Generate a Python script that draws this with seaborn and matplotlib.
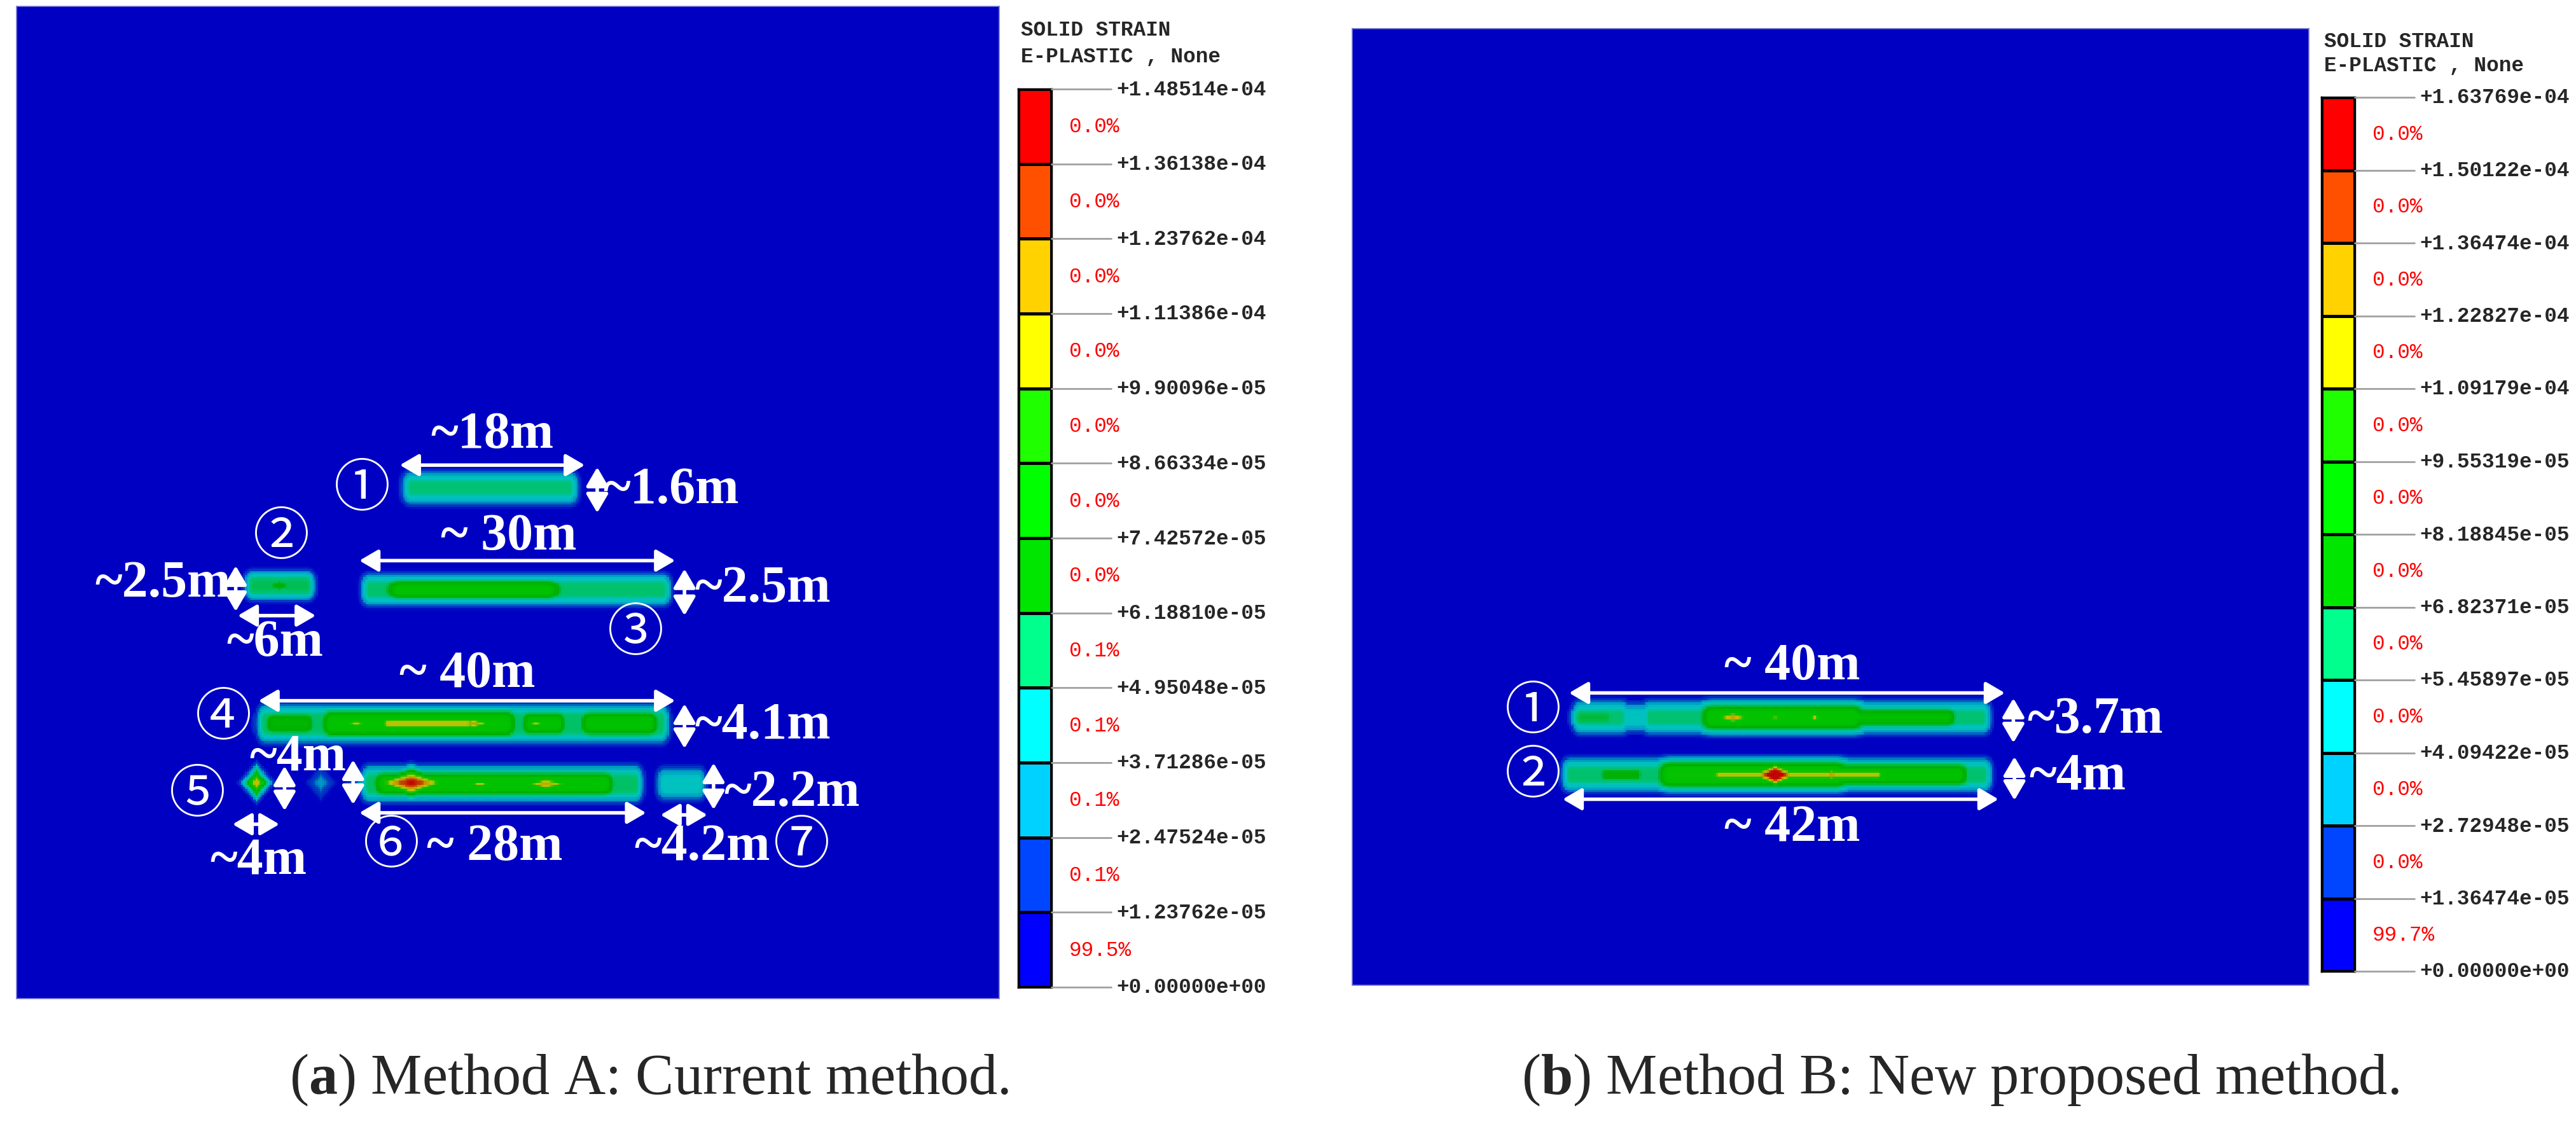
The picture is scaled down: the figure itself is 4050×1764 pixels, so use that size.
import numpy as np
import matplotlib
matplotlib.use("Agg")
import matplotlib.pyplot as plt
from matplotlib.colors import ListedColormap, to_rgb
from matplotlib.lines import Line2D
import seaborn as sns

sns.set_style("white")
plt.rcParams["mathtext.fontset"] = "custom"
plt.rcParams["mathtext.rm"] = "Liberation Serif"
plt.rcParams["mathtext.bf"] = "Liberation Serif:bold"

# ---- legend data -------------------------------------------------------
levels_a = [0.0, 1.23762e-05, 2.47524e-05, 3.71286e-05, 4.95048e-05, 6.18810e-05,
            7.42572e-05, 8.66334e-05, 9.90096e-05, 1.11386e-04, 1.23762e-04,
            1.36138e-04, 1.48514e-04]
levels_b = [0.0, 1.36474e-05, 2.72948e-05, 4.09422e-05, 5.45897e-05, 6.82371e-05,
            8.18845e-05, 9.55319e-05, 1.09179e-04, 1.22827e-04, 1.36474e-04,
            1.50122e-04, 1.63769e-04]
# share of elements per band, bottom band first
share_a = [99.5, 0.1, 0.1, 0.1, 0.1, 0.0, 0.0, 0.0, 0.0, 0.0, 0.0, 0.0]
share_b = [99.7, 0.0, 0.0, 0.0, 0.0, 0.0, 0.0, 0.0, 0.0, 0.0, 0.0, 0.0]
band_colors = ["#0000FF", "#0046FF", "#00D2FF", "#00FFFF", "#00FF8C", "#00E600",
               "#00FF00", "#20FF00", "#FFFF00", "#FFD200", "#FF5000", "#FF0000"]

# ---- plastic zones (m, y measured downward), strain values in 1e-5 ------
# bands: x start, x end, y centre, half height, end taper, peak strain
bands_a = [
    (38.0, 53.2, 46.4, 1.65, 1.0, 5.3),   # 1
    (22.8, 27.9, 55.8, 1.45, 0.9, 6.0),   # 2
    (34.0, 62.2, 56.2, 1.60, 0.9, 5.5),   # 3
    (37.0, 51.0, 56.2, 1.20, 2.6, 8.0),
    (24.0, 62.0, 69.1, 1.90, 0.9, 5.8),   # 4
    (24.8, 27.8, 69.1, 1.40, 1.6, 7.4),
    (30.5, 47.0, 69.1, 1.65, 1.8, 8.4),
    (49.5, 52.0, 69.1, 1.50, 1.5, 8.0),
    (55.3, 60.8, 69.1, 1.55, 1.8, 8.0),
    (35.8, 43.4, 69.1, 0.60, 1.0, 10.6),
    (34.0, 59.5, 74.9, 1.80, 0.9, 5.8),   # 6
    (35.5, 56.5, 74.9, 1.50, 1.8, 8.2),
    (62.4, 65.6, 74.9, 1.65, 0.9, 4.5),   # 7
]
# hot spots: x, y, half width, half height, peak strain
spots_a = [
    (25.3, 55.8, 2.2, 0.9, 7.2),
    (32.7, 69.1, 1.5, 0.5, 10.4),
    (44.0, 69.1, 2.2, 0.7, 11.8),
    (50.0, 69.1, 1.2, 0.4, 10.4),
    (23.1, 74.8, 1.3, 1.5, 10.8),         # 5
    (29.3, 74.8, 1.5, 1.8, 2.9),
    (38.0, 74.8, 4.2, 1.4, 14.0),
    (44.6, 74.9, 1.6, 0.4, 10.5),
    (51.0, 74.9, 3.0, 0.9, 11.4),
    (56.0, 74.9, 2.0, 1.4, 8.6),
]
bands_b = [
    (21.5, 25.3, 64.8, 1.63, 0.9, 5.9),   # 1
    (25.3, 28.0, 64.8, 1.45, 1.0, 4.9),
    (28.0, 59.3, 64.8, 1.63, 0.9, 5.9),
    (21.5, 24.0, 64.8, 1.10, 1.0, 6.8),
    (34.0, 47.0, 64.8, 1.60, 2.0, 9.2),
    (47.5, 56.0, 64.8, 1.20, 1.5, 8.4),
    (20.5, 59.4, 70.2, 1.65, 0.9, 6.0),   # 2
    (23.8, 26.8, 70.2, 0.90, 1.0, 7.4),
    (30.0, 45.5, 70.2, 1.60, 2.0, 9.4),
    (46.0, 57.0, 70.2, 1.40, 1.6, 8.8),
    (34.5, 49.4, 70.2, 0.55, 1.0, 11.4),
]
spots_b = [
    (35.8, 64.8, 2.6, 0.8, 12.8),
    (39.8, 64.8, 1.2, 0.5, 11.6),
    (43.5, 64.8, 1.4, 0.5, 11.8),
    (39.8, 70.2, 2.6, 1.15, 17.5),
    (45.1, 70.2, 2.4, 0.7, 13.0),
]
size_a = (94.8, 95.7)
size_b = (90.0, 90.0)
RES = 0.2


def strain_field(size, bands, spots):
    nx, ny = int(size[0] / RES), int(size[1] / RES)
    X, Y = np.meshgrid((np.arange(nx) + 0.5) * RES, (np.arange(ny) + 0.5) * RES)
    F = np.zeros_like(X)
    for x0, x1, yc, ry, rx, pk in bands:
        dx = np.clip(np.maximum(x0 - X, X - x1), 0, None)
        F = np.maximum(F, pk * 1e-5 * np.exp(-np.abs((Y - yc) / ry) ** 3 - (dx / rx) ** 2))
    for xc, yc, rx, ry, pk in spots:
        d = np.abs(X - xc) / rx + np.abs(Y - yc) / ry
        F = np.maximum(F, pk * 1e-5 * np.exp(-d ** 2))
    return F


def soft_cmap(colors, scale, sigma=0.12, n=1200):
    t = np.linspace(0, 12, n)[:, None]
    k = np.arange(12)[None, :]
    sig = lambda z: 1 / (1 + np.exp(-z))
    w = sig((t - k) / sigma) - sig((t - k - 1) / sigma)
    rgb = (w @ np.array([to_rgb(c) for c in colors])) / w.sum(axis=1, keepdims=True)
    return ListedColormap(np.clip(rgb * scale, 0, 1))


W, H = 4050, 1765
fig = plt.figure(figsize=(W / 100, H / 100), dpi=100)


def fax(x0, y0, x1, y1):
    return fig.add_axes([x0 / W, 1 - y1 / H, (x1 - x0) / W, (y1 - y0) / H])


shade = soft_cmap(band_colors, 0.76)
bright = ListedColormap(band_colors)
mono = dict(family="Liberation Mono", fontsize=23.5)
ann = dict(family="Liberation Serif", fontweight="bold", fontsize=59, color="white")
circ = dict(family=["Liberation Serif", "Noto Sans CJK JP"], fontsize=64, color="white")
arrow = dict(arrowstyle="<|-|>,head_length=0.6,head_width=0.35", color="white",
             lw=4, shrinkA=0, shrinkB=0, mutation_scale=30)


def panel(box, cbox, size, bands, spots, levels, share, head_y):
    ax = fax(*box)
    F = strain_field(size, bands, spots)
    lev = np.clip(F / levels[1], 0, 12)
    sns.heatmap(lev, ax=ax, cmap=shade, vmin=0, vmax=12, cbar=False,
                xticklabels=False, yticklabels=False)
    for s in ax.spines.values():
        s.set_visible(True)
        s.set_color("#7a7ad8")
        s.set_linewidth(1.2)

    cx = fax(*cbox)
    sns.heatmap(np.arange(12)[::-1].reshape(-1, 1), ax=cx, cmap=bright, vmin=-0.5,
                vmax=11.5, cbar=False, linewidths=2.2, linecolor="black",
                xticklabels=False, yticklabels=False)
    for s in cx.spines.values():
        s.set_visible(True)
        s.set_color("black")
        s.set_linewidth(2.5)

    x0, y0, x1, y1 = cbox
    step = (y1 - y0) / 12
    fig.text((x0 + 4) / W, 1 - head_y[0] / H, "SOLID STRAIN", va="center",
             fontweight="bold", **mono)
    fig.text((x0 + 4) / W, 1 - head_y[1] / H, "E-PLASTIC , None", va="center",
             fontweight="bold", **mono)
    for k, v in enumerate(levels):
        yy = 1 - (y1 - k * step) / H
        fig.add_artist(Line2D([x1 / W, (x1 + 94) / W], [yy, yy], color="#a0a0a0", lw=2))
        fig.text((x1 + 102) / W, yy, f"{v:+.5e}", va="center", fontweight="bold", **mono)
    for k, p in enumerate(share):
        yy = 1 - (y1 - (k + 0.5) * step) / H
        fig.text((x1 + 28) / W, yy, f"{p:.1f}%", va="center", color="#ff0000", **mono)
    return ax


def m(v):
    return v / RES


def dim_arrow(ax, p0, p1):
    ax.annotate("", xy=(m(p1[0]), m(p1[1])), xytext=(m(p0[0]), m(p0[1])), arrowprops=arrow)


def label(ax, x, y, s, ha="center", **kw):
    ax.text(m(x), m(y), s, ha=ha, va="center", **kw)


ax_a = panel((26, 11, 1571, 1571), (1601, 141, 1653, 1553), size_a, bands_a, spots_a,
             levels_a, share_a, (48, 89))
ax_b = panel((2126, 46, 3630, 1550), (3650, 154, 3702, 1528), size_b, bands_b, spots_b,
             levels_b, share_b, (66, 104))

# ---- annotations, panel a -----------------------------------------------
for x, y, s in [(33.3, 46.6, "①"), (25.5, 51.3, "②"), (59.6, 60.5, "③"),
                (19.9, 68.7, "④"), (17.4, 76.1, "⑤"), (36.1, 81.0, "⑥"),
                (75.6, 81.0, "⑦")]:
    label(ax_a, x, y, s, **circ)
for x, y, s in [(45.8, 41.3, "~18m"), (47.4, 51.1, "~ 30m"), (24.9, 61.3, "~6m"),
                (43.4, 64.3, "~ 40m"), (27.1, 72.3, "~4m"), (23.3, 82.3, "~4m"),
                (46.0, 81.0, "~ 28m"), (66.0, 81.0, "~4.2m")]:
    label(ax_a, x, y, s, **ann)
for x, y, s in [(56.5, 46.6, "~1.6m"), (65.3, 56.1, "~2.5m"), (65.3, 69.3, "~4.1m"),
                (68.1, 75.8, "~2.2m")]:
    label(ax_a, x, y, s, ha="left", **ann)
label(ax_a, 20.6, 55.6, "~2.5m", ha="right", **ann)
for p0, p1 in [((36.9, 44.2), (54.7, 44.2)), ((55.9, 44.4), (55.9, 48.8)),
               ((33.0, 53.4), (63.4, 53.4)), ((21.1, 53.9), (21.1, 58.3)),
               ((21.3, 58.7), (28.8, 58.7)), ((64.3, 54.2), (64.3, 58.7)),
               ((23.3, 66.9), (63.4, 66.9)), ((64.3, 67.2), (64.3, 71.5)),
               ((25.8, 73.2), (25.8, 77.5)), ((32.4, 72.6), (32.4, 76.9)),
               ((20.8, 78.8), (25.3, 78.8)), ((33.0, 77.7), (60.6, 77.7)),
               ((62.0, 77.9), (66.5, 77.9)), ((67.1, 72.9), (67.1, 77.4))]:
    dim_arrow(ax_a, p0, p1)

# ---- annotations, panel b -----------------------------------------------
label(ax_b, 17.0, 64.4, "①", **circ)
label(ax_b, 17.0, 70.4, "②", **circ)
label(ax_b, 41.4, 60.0, "~ 40m", **ann)
label(ax_b, 41.4, 75.2, "~ 42m", **ann)
label(ax_b, 63.5, 65.0, "~3.7m", ha="left", **ann)
label(ax_b, 63.7, 70.3, "~4m", ha="left", **ann)
for p0, p1 in [((20.4, 62.5), (61.4, 62.5)), ((19.8, 72.5), (60.8, 72.5)),
               ((62.2, 63.0), (62.2, 67.2)), ((62.3, 68.5), (62.3, 72.6))]:
    dim_arrow(ax_b, p0, p1)

# ---- captions -------------------------------------------------------------
cap = dict(ha="center", va="baseline", fontsize=65, family="Liberation Serif")
fig.text(0.252, 1 - 1720 / H, r"($\mathbf{a}$) Method A: Current method.", **cap)
fig.text(0.761, 1 - 1720 / H, r"($\mathbf{b}$) Method B: New proposed method.", **cap)

fig.savefig("out.png", dpi=100, facecolor="white")
